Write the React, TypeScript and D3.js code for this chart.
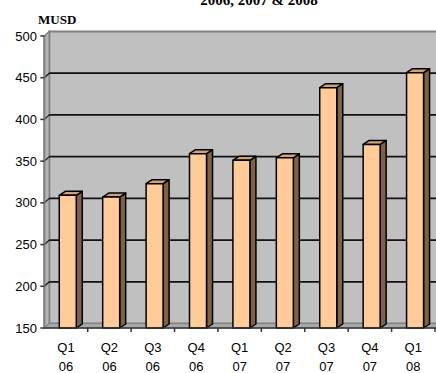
import React from "react";
import * as d3 from "d3";

const categories = ["Q1|06", "Q2|06", "Q3|06", "Q4|06", "Q1|07", "Q2|07", "Q3|07", "Q4|07", "Q1|08"];
const values = [309, 307, 323, 359, 351, 354, 438, 370, 456];
const yTicks = [150, 200, 250, 300, 350, 400, 450, 500];
const title = "2006, 2007 & 2008";
const unitLabel = "MUSD";

const W = 436;
const H = 373;
const x0 = 44.3;
const x1 = 435;
const yTop = 36;
const yBot = 328;
const wdx = 5;
const wdy = -4.5;
const bdx = 6;
const bdy = -4;

export default function App() {
  const y = d3.scaleLinear().domain([150, 500]).range([yBot, yTop]);
  const x = d3.scaleBand<string>().domain(categories).range([x0, x1]).paddingInner(0).paddingOuter(0);
  const bw = x.bandwidth();
  const frontOff = bw * 0.345;
  const frontW = 17;

  return (
    <svg width={W} height={H} style={{ position: "absolute", left: 0, top: 0 }}>
      <rect x={0} y={0} width={W} height={H} fill="#fff" />
      <text x={259} y={5} textAnchor="middle" fontFamily="'Liberation Serif', 'Times New Roman', serif" fontWeight="bold" fontSize={15}>{title}</text>
      <text x={38} y={24} fontFamily="'Liberation Serif', 'Times New Roman', serif" fontWeight="bold" fontSize={13}>{unitLabel}</text>
      {/* back wall */}
      <rect x={x0 + wdx} y={yTop + wdy} width={W - (x0 + wdx) + 2} height={yBot - yTop} fill="#C0C0C0" stroke="#808080" strokeWidth={2} />
      {/* left wall */}
      <polygon
        points={`${x0},${yTop} ${x0 + wdx},${yTop + wdy} ${x0 + wdx},${yBot + wdy} ${x0},${yBot}`}
        fill="#B4B4B4" stroke="#808080" strokeWidth={1.5}
      />
      {/* floor */}
      <polygon
        points={`${x0},${yBot} ${x0 + wdx},${yBot + wdy} ${W + 2},${yBot + wdy} ${W + 2},${yBot}`}
        fill="#A8A8A8" stroke="#808080" strokeWidth={1}
      />
      {/* gridlines */}
      {yTicks.filter((t) => t > 150 && t < 500).map((t) => (
        <g key={t}>
          <line x1={x0 + wdx} x2={W + 2} y1={y(t) + wdy} y2={y(t) + wdy} stroke="#111" strokeWidth={1.7} />
          <line x1={x0} x2={x0 + wdx} y1={y(t)} y2={y(t) + wdy} stroke="#111" strokeWidth={1.2} />
        </g>
      ))}
      {/* bars */}
      {categories.map((c, i) => {
        const fx = (x(c) as number) + frontOff;
        const fy = y(values[i]);
        const by = yBot;
        return (
          <g key={c} stroke="#000" strokeWidth={1.5} strokeLinejoin="round">
            <polygon points={`${fx + frontW},${fy} ${fx + frontW + bdx},${fy + bdy} ${fx + frontW + bdx},${by + bdy} ${fx + frontW},${by}`} fill="#7F6145" />
            <polygon points={`${fx},${fy} ${fx + bdx},${fy + bdy} ${fx + frontW + bdx},${fy + bdy} ${fx + frontW},${fy}`} fill="#CCA37A" />
            <rect x={fx} y={fy} width={frontW} height={by - fy} fill="#FFCC99" />
          </g>
        );
      })}
      {/* axes */}
      <line x1={x0} x2={x0} y1={yTop} y2={yBot} stroke="#808080" strokeWidth={2} />
      <line x1={x0} x2={W + 2} y1={yBot} y2={yBot} stroke="#333" strokeWidth={1.5} />
      {yTicks.map((t) => (
        <g key={t}>
          <line x1={x0 - 4} x2={x0} y1={y(t)} y2={y(t)} stroke="#333" strokeWidth={1.5} />
          <text x={37} y={y(t) + 4.5} textAnchor="end" fontFamily="'Liberation Sans', Arial, sans-serif" fontSize={13}>{t}</text>
        </g>
      ))}
      {categories.map((c, i) => (
        <line key={"t" + i} x1={(x(c) as number) + bw} x2={(x(c) as number) + bw} y1={yBot} y2={yBot + 4} stroke="#333" strokeWidth={1.5} />
      ))}
      {categories.map((c) => {
        const [a, b] = c.split("|");
        const cx = (x(c) as number) + bw / 2;
        return (
          <text key={"l" + c} textAnchor="middle" fontFamily="'Liberation Sans', Arial, sans-serif" fontSize={13}>
            <tspan x={cx} y={352}>{a}</tspan>
            <tspan x={cx} y={371}>{b}</tspan>
          </text>
        );
      })}
    </svg>
  );
}
